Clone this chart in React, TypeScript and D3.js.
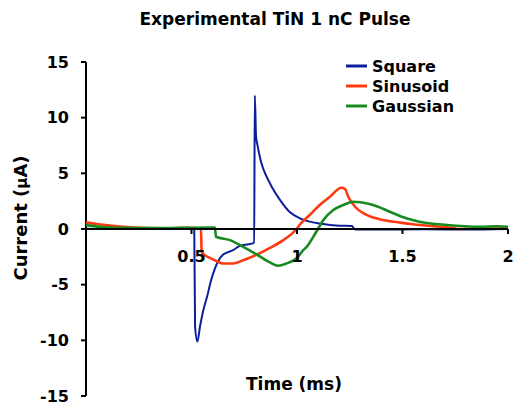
import React from 'react';
import * as d3 from 'd3';

// time (ms) / current (uA)
const squareT = [0, 0.1, 0.2, 0.3, 0.4, 0.5, 0.513, 0.517, 0.528, 0.54, 0.556, 0.575, 0.59, 0.61, 0.65, 0.697, 0.73, 0.76, 0.797, 0.8, 0.806, 0.812, 0.83, 0.856, 0.88, 0.92, 0.967, 1.014, 1.06, 1.125, 1.2, 1.26, 1.275, 1.4, 1.6, 1.8, 2.0];
const squareI = [0.02, 0, 0.02, 0, 0.02, 0, 0, -8.8, -10.1, -8.8, -7.3, -6, -4.8, -3.6, -2.3, -1.9, -1.5, -1.4, -1.25, 12, 8.3, 7.6, 6.0, 4.7, 3.8, 2.6, 1.5, 0.96, 0.66, 0.45, 0.3, 0.28, -0.05, -0.05, -0.02, -0.05, 0];

const sinT = [0, 0.05, 0.114, 0.21, 0.3, 0.4, 0.48, 0.545, 0.548, 0.56, 0.588, 0.62, 0.65, 0.697, 0.745, 0.81, 0.872, 0.935, 0.998, 1.014, 1.06, 1.11, 1.156, 1.21, 1.227, 1.243, 1.275, 1.33, 1.41, 1.49, 1.55, 1.68, 1.74, 1.76, 1.85, 2.0];
const sinI = [0.6, 0.45, 0.3, 0.15, 0.08, 0.05, 0.1, 0.05, -2.0, -2.3, -2.6, -2.9, -3.1, -3.1, -2.8, -2.3, -1.7, -1.0, 0, 0.4, 1.26, 2.2, 2.9, 3.7, 3.6, 2.9, 2.0, 1.26, 0.8, 0.57, 0.42, 0.2, 0.1, 0.0, 0.05, 0.05];

const gaussT = [0, 0.066, 0.15, 0.3, 0.45, 0.6, 0.611, 0.616, 0.682, 0.745, 0.81, 0.872, 0.91, 0.95, 1.0, 1.03, 1.046, 1.093, 1.125, 1.172, 1.22, 1.267, 1.3, 1.36, 1.44, 1.49, 1.58, 1.71, 1.87, 1.95, 2.0];
const gaussI = [0.35, 0.2, 0.1, 0.08, 0.1, 0.12, 0.12, -0.7, -1.0, -1.6, -2.3, -3.0, -3.3, -3.1, -2.6, -1.9, -1.6, -0.2, 0.8, 1.7, 2.15, 2.45, 2.4, 2.15, 1.55, 1.15, 0.66, 0.36, 0.2, 0.25, 0.2];

const seriesNames = ['Square', 'Sinusoid', 'Gaussian'];
const seriesColors = ['#0a1f9c', '#ff3a10', '#178a1e'];
const xTicks = [0.5, 1, 1.5, 2];
const yTicks = [15, 10, 5, 0, -5, -10, -15];

const W = 513;
const H = 402;
const font = "'DejaVu Sans', Verdana, sans-serif";

export default function App() {
  const x = d3.scaleLinear().domain([0, 2]).range([86, 508]);
  const y = d3.scaleLinear().domain([-15, 15]).range([396, 62]);

  const line = d3
    .line<[number, number]>()
    .x((d) => x(d[0]))
    .y((d) => y(d[1]))
    .curve(d3.curveMonotoneX);

  const series = [
    squareT.map((t, i) => [t, squareI[i]] as [number, number]),
    sinT.map((t, i) => [t, sinI[i]] as [number, number]),
    gaussT.map((t, i) => [t, gaussI[i]] as [number, number]),
  ];

  return (
    <div style={{ position: 'absolute', left: 0, top: 0 }}>
      <svg width={W} height={H} style={{ display: 'block', background: '#fff' }}>
        <text x={275} y={25} textAnchor="middle" fontFamily={font} fontWeight="bold" fontSize={17}>
          Experimental TiN 1 nC Pulse
        </text>

        {/* y axis */}
        <line x1={x(0)} x2={x(0)} y1={y(15)} y2={y(-15)} stroke="#000" strokeWidth={2} />
        {yTicks.map((t) => (
          <g key={t}>
            <line x1={x(0) - 5} x2={x(0)} y1={y(t)} y2={y(t)} stroke="#000" strokeWidth={2} />
            <text x={69} y={y(t)} dy="0.36em" textAnchor="end" fontFamily={font} fontWeight="bold" fontSize={16}>
              {t}
            </text>
          </g>
        ))}

        {/* series */}
        {series.map((s, i) => (
          <path key={i} d={line(s) || ''} fill="none" stroke={seriesColors[i]} strokeWidth={i === 0 ? 2 : 2.6} strokeLinejoin="round" />
        ))}

        {/* x axis at zero */}
        <line x1={x(0)} x2={x(2)} y1={y(0)} y2={y(0)} stroke="#000" strokeWidth={2} />
        {xTicks.map((t) => (
          <g key={t}>
            <line x1={x(t)} x2={x(t)} y1={y(0)} y2={y(0) + 5} stroke="#000" strokeWidth={2} />
            <text x={x(t)} y={262} textAnchor="middle" fontFamily={font} fontWeight="bold" fontSize={16}>
              {t}
            </text>
          </g>
        ))}

        <text x={294} y={390} textAnchor="middle" fontFamily={font} fontWeight="bold" fontSize={17}>
          Time (ms)
        </text>
        <text transform="translate(27,218) rotate(-90)" textAnchor="middle" fontFamily={font} fontWeight="bold" fontSize={18}>
          Current (<tspan fontSize={15}>μ</tspan>A)
        </text>

        {/* legend */}
        {seriesNames.map((n, i) => (
          <g key={n} transform={`translate(346,${66 + i * 20})`}>
            <line x1={0} x2={21} y1={0} y2={0} stroke={seriesColors[i]} strokeWidth={3} />
            <text x={26} y={0} dy="0.36em" fontFamily={font} fontWeight="bold" fontSize={16}>
              {n}
            </text>
          </g>
        ))}
      </svg>
    </div>
  );
}
